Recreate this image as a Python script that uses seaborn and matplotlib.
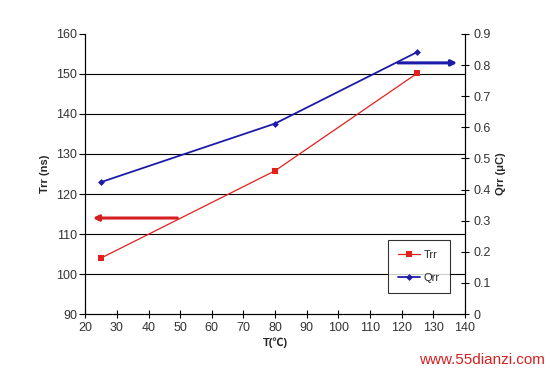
import matplotlib
matplotlib.use("Agg")
import matplotlib.pyplot as plt
import seaborn as sns
import pandas as pd

temps = [25, 80, 125]
trr_ns = [104, 125.8, 150.2]
qrr_uc = [0.424, 0.612, 0.842]

left_ticks = list(range(90, 161, 10))
right_ticks = [round(0.1 * i, 1) for i in range(10)]
x_ticks = list(range(20, 141, 10))

sns.set_theme(style="white")
plt.rcParams['font.family'] = ['Liberation Sans', 'Noto Sans CJK SC', 'DejaVu Sans']

df = pd.DataFrame({"T": temps, "Trr": trr_ns, "Qrr": qrr_uc})

fig = plt.figure(figsize=(5.5, 3.73), dpi=100)
ax = fig.add_axes([0.155, 0.158, 0.69, 0.751])
ax2 = ax.twinx()

red = "#e3201b"
blue = "#1c1ca8"

sns.lineplot(data=df, x="T", y="Trr", ax=ax, color=red, lw=0.9, marker="s",
             markersize=5, markeredgewidth=0, label="Trr", legend=False)
sns.lineplot(data=df, x="T", y="Qrr", ax=ax2, color=blue, lw=1.3, marker="D",
             markersize=3.5, markeredgewidth=0, label="Qrr", legend=False)

ax.set_xlim(20, 140)
ax.set_ylim(90, 160)
ax2.set_ylim(0, 0.9)
ax.set_xticks(x_ticks)
ax.set_yticks(left_ticks)
ax2.set_yticks(right_ticks)
ax2.set_yticklabels([("0" if v == 0 else f"{v:.1f}") for v in right_ticks])

for v in left_ticks[1:-1]:
    ax.axhline(v, color="black", lw=0.8, zorder=0)

for a in (ax, ax2):
    a.spines["top"].set_visible(False)
    for s in ("left", "right", "bottom"):
        a.spines[s].set_color("black")
        a.spines[s].set_linewidth(0.8)
ax.tick_params(axis="y", direction="out", length=4, width=0.8, color="black",
               labelsize=9, labelcolor="#333333", left=True, pad=2)
ax.tick_params(axis="x", direction="inout", length=6, width=0.8, color="black",
               labelsize=9, labelcolor="#333333", bottom=True, pad=3)
ax2.tick_params(axis="y", direction="inout", length=6, width=0.8, color="black",
                labelsize=9, labelcolor="#333333", right=True, pad=3)

ax.set_xlabel("T(℃)", fontsize=8, fontweight="bold", labelpad=2)
ax.set_ylabel("Trr (ns)", fontsize=8, fontweight="bold", labelpad=4)
ax2.set_ylabel("Qrr (μC)", fontsize=8, fontweight="bold", labelpad=4)

# arrows indicating axes
ax.annotate("", xy=(21.5, 114), xytext=(50, 114),
            arrowprops=dict(arrowstyle="-|>", color="#d42020", lw=2.2,
                            mutation_scale=8))
ax2.annotate("", xy=(138.5, 0.807), xytext=(118, 0.807),
             arrowprops=dict(arrowstyle="-|>", color="#1c1ca8", lw=2.2,
                             mutation_scale=8))

h1, l1 = ax.get_legend_handles_labels()
h2, l2 = ax2.get_legend_handles_labels()
leg = ax2.legend(h1 + h2, l1 + l2, loc="lower right",
                 bbox_to_anchor=(0.975, 0.055), frameon=True, fancybox=False,
                 fontsize=8, handlelength=2.0, borderpad=0.9, labelspacing=1.2,
                 handletextpad=0.3)
leg.get_frame().set_edgecolor("black")
leg.get_frame().set_linewidth(0.8)

fig.text(0.99, 0.015, "www.55dianzi.com", color="#d42020", fontsize=11,
         ha="right", va="bottom")

fig.savefig("out.png", dpi=100, facecolor="white")
